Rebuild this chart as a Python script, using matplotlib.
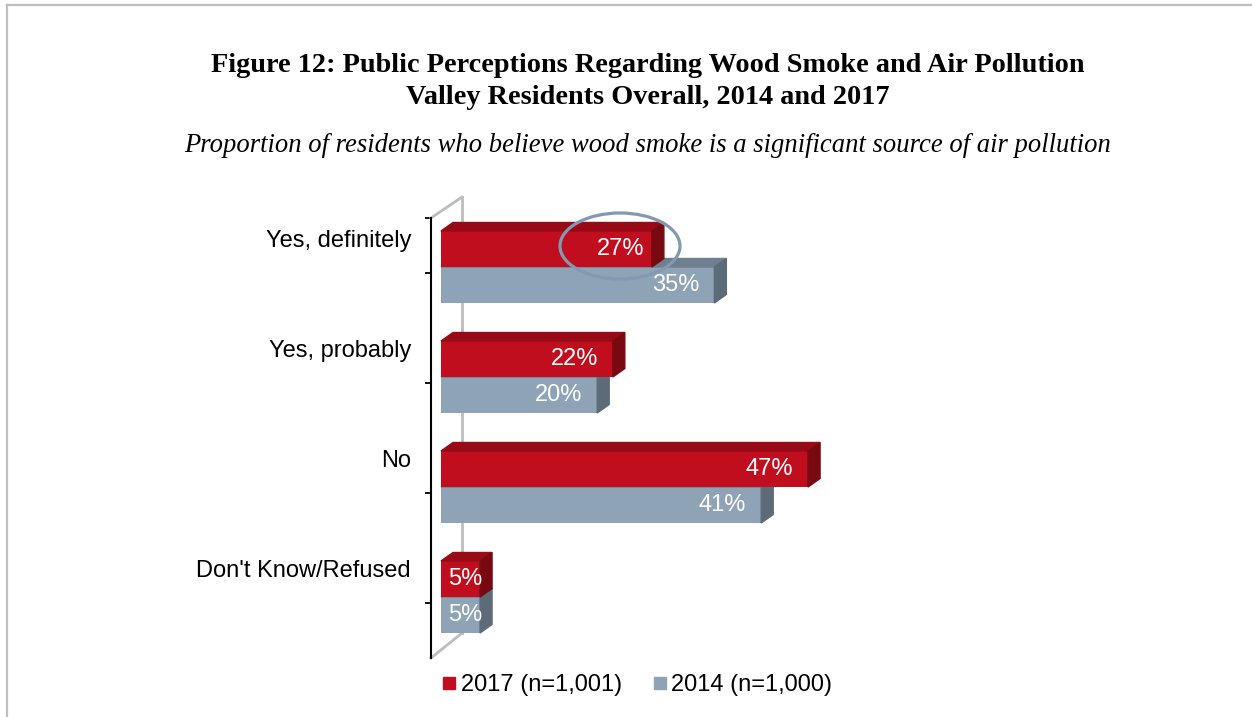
import matplotlib
matplotlib.use("Agg")
import matplotlib.pyplot as plt
from matplotlib.patches import Polygon, Ellipse
from matplotlib.lines import Line2D
from matplotlib.transforms import ScaledTranslation

# data
categories = ["Yes, definitely", "Yes, probably", "No", "Don't Know/Refused"]
vals_2017 = [27, 22, 47, 5]
vals_2014 = [35, 20, 41, 5]
series_names = ["2017 (n=1,001)", "2014 (n=1,000)"]

RED, RED_TOP, RED_SIDE = "#C10E1F", "#980A16", "#790911"
GRAY, GRAY_TOP, GRAY_SIDE = "#8FA3B6", "#6E7F8F", "#5D6B78"

W, H = 1252, 717
fig = plt.figure(figsize=(W / 100, H / 100), dpi=100)
fig.patch.set_facecolor("white")

# frame lines (left + top) like the report border
fig.add_artist(Line2D([7 / W, 7 / W], [0, 1 - 5 / H], transform=fig.transFigure,
                      color="#BFBFBF", lw=1.6))
fig.add_artist(Line2D([7 / W, 1], [1 - 5 / H, 1 - 5 / H], transform=fig.transFigure,
                      color="#BFBFBF", lw=1.6))

fig.text(648 / W, 1 - 66 / H, "Figure 12: Public Perceptions Regarding Wood Smoke and Air Pollution",
         ha="center", va="center", family="Liberation Serif", weight="bold", fontsize=20.3)
fig.text(648 / W, 1 - 97 / H, "Valley Residents Overall, 2014 and 2017",
         ha="center", va="center", family="Liberation Serif", weight="bold", fontsize=20.3)
fig.text(648 / W, 1 - 146 / H,
         "Proportion of residents who believe wood smoke is a significant source of air pollution",
         ha="center", va="center", family="Liberation Serif", style="italic", fontsize=19.2)

px_per_pct = 7.81
ax = fig.add_axes([431 / W, 1 - 658 / H, 640 / W, 440 / H])
ax.set_xlim(0, 640 / px_per_pct)
ax.set_ylim(3.5, -0.5)
for sp in ["top", "right", "bottom"]:
    ax.spines[sp].set_visible(False)
ax.spines["left"].set_linewidth(1.5)
ax.set_xticks([])
ax.set_yticks([-0.5, 0, 1, 2, 3])
ax.tick_params(axis="y", direction="out", length=4, width=1.3, labelleft=False)
ax.patch.set_alpha(0)

# back wall of the 3d chart
wall = dict(transform=ax.transAxes, color="#BDBDBD", lw=2, clip_on=False)
ax.add_line(Line2D([31 / 640, 31 / 640], [(658 - 197) / 440, (658 - 633) / 440], **wall))
ax.add_line(Line2D([0, 31 / 640], [1, (658 - 197) / 440], **wall))
ax.add_line(Line2D([0, 31 / 640], [0, (658 - 633) / 440], **wall))

bar_tr = ax.transData + ScaledTranslation(10 / 100, 6 / 100, fig.dpi_scale_trans)
h = 36 / 110
dx = 12 / px_per_pct
dy = 8.5 / 110


def bar3d(y_top, v, front, top, side, z):
    yb = y_top + h
    ax.barh(y_top + h / 2, v, height=h, color=front, transform=bar_tr, zorder=z)
    ax.add_patch(Polygon([(0, y_top), (v, y_top), (v + dx, y_top - dy), (dx, y_top - dy)],
                         closed=True, color=top, transform=bar_tr, zorder=z))
    ax.add_patch(Polygon([(v, y_top), (v, yb), (v + dx, yb - dy), (v + dx, y_top - dy)],
                         closed=True, color=side, transform=bar_tr, zorder=z))


def value_label(yc, v, pad=15):
    if v < 10:
        tr = bar_tr + ScaledTranslation(4.5 / 100, 0, fig.dpi_scale_trans)
        ax.text(v / 2, yc, f"{v}%", ha="center", va="center", color="white",
                family="Liberation Sans", fontsize=17, transform=tr, zorder=5)
    else:
        tr = bar_tr + ScaledTranslation(-pad / 100, 0, fig.dpi_scale_trans)
        ax.text(v, yc, f"{v}%", ha="right", va="center", color="white",
                family="Liberation Sans", fontsize=17, transform=tr, zorder=5)


for i, cat in enumerate(categories):
    bar3d(i, vals_2014[i], GRAY, GRAY_TOP, GRAY_SIDE, 2)
    bar3d(i - h, vals_2017[i], RED, RED_TOP, RED_SIDE, 3)
    # the highlighted label sits a bit nearer the bar end in the original
    value_label(i - h / 2, vals_2017[i], pad=7 if i == 0 else 15)
    value_label(i + h / 2, vals_2014[i])
    ax.text(0, i, cat, ha="right", va="center", family="Liberation Sans", fontsize=17,
            transform=ax.transData + ScaledTranslation(-20 / 100, 32 / 100, fig.dpi_scale_trans))

# highlight circle round the 2017 "Yes, definitely" label
fig.add_artist(Ellipse((6.20, (H - 246) / 100), 1.20, 0.66, transform=fig.dpi_scale_trans,
                       fill=False, edgecolor="#8199B1", lw=2.3, zorder=6))

handles = [Line2D([], [], marker="s", ls="", color=RED, markersize=9),
           Line2D([], [], marker="s", ls="", color=GRAY, markersize=9)]
fig.legend(handles, series_names, loc="center", bbox_to_anchor=(636 / W, 1 - 685 / H),
           ncol=2, frameon=False, handletextpad=0.1, columnspacing=1.2, handlelength=0.8,
           prop={"family": "Liberation Sans", "size": 17})

fig.savefig("out.png", dpi=100)
